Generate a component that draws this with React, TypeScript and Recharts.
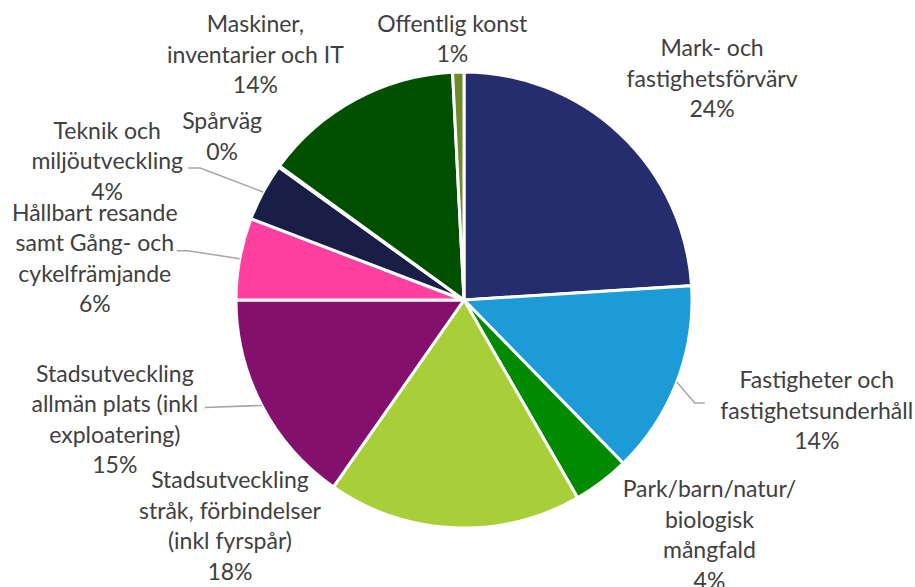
import { Cell, Pie, PieChart } from "recharts";

const W = 915;
const H = 587;
const FONT = "Lato, 'Open Sans', sans-serif";
const TEXT = "#404040";
const LEADER = "#A6A6A6";
const LINE_H = 30.5;
const RAD = Math.PI / 180;

// label text, "\n" marks where the original wraps
const CATEGORIES = [
  "Mark- och\nfastighetsförvärv",
  "Fastigheter och\nfastighetsunderhåll",
  "Park/barn/natur/\nbiologisk\nmångfald",
  "Stadsutveckling\nstråk, förbindelser\n(inkl fyrspår)",
  "Stadsutveckling\nallmän plats (inkl\nexploatering)",
  "Hållbart resande\nsamt Gång- och\ncykelfrämjande",
  "Teknik och\nmiljöutveckling",
  "Spårväg",
  "Maskiner,\ninventarier och IT",
  "Offentlig konst",
];
const SHARES = [24.0, 13.7, 4.0, 18.0, 15.3, 5.8, 4.1, 0.1, 14.2, 0.8];
const COLORS = [
  "#262D6E",
  "#1D9BD7",
  "#008A00",
  "#A9CF38",
  "#84106E",
  "#FF40A0",
  "#191E47",
  "#7F7F7F",
  "#005000",
  "#6F8A28",
];

// label block centre, offset from the slice's outer edge at its mid angle
const LABEL_OFFSET: [number, number][] = [
  [92, -56],
  [140, 28],
  [108, 52],
  [-224, -3],
  [-147, 13],
  [-145, -1],
  [-156, -32],
  [-57, -31],
  [-100, -46],
  [-6, -34],
];
// leader line points (relative to the slice edge)
const LEADERS: (number[] | null)[] = [
  null,
  [18, 21, 28, 21],
  null,
  null,
  [-57, 2],
  [-52, -8, -63, -8],
  [-63, -24, -75, -24],
  null,
  null,
  null,
];

const data = CATEGORIES.map((name, i) => ({ name, value: SHARES[i] }));

function SliceLabel(props: any) {
  const { cx, cy, midAngle, outerRadius, index, percent } = props;
  const ex = cx + outerRadius * Math.cos(-midAngle * RAD);
  const ey = cy + outerRadius * Math.sin(-midAngle * RAD);
  const [dx, dy] = LABEL_OFFSET[index];
  const lines = [...CATEGORIES[index].split("\n"), `${Math.round(percent * 100)}%`];
  const top = ey + dy - ((lines.length - 1) * LINE_H) / 2;
  const leader = LEADERS[index];
  let pts = `${ex},${ey}`;
  if (leader) {
    for (let k = 0; k < leader.length; k += 2) pts += ` ${ex + leader[k]},${ey + leader[k + 1]}`;
  }
  return (
    <g>
      {leader && <polyline points={pts} fill="none" stroke={LEADER} strokeWidth={1.5} />}
      <text
        x={ex + dx}
        textAnchor="middle"
        dominantBaseline="central"
        fill={TEXT}
        fontSize={23}
        fontFamily={FONT}
      >
        {lines.map((l, i) => (
          <tspan key={i} x={ex + dx} y={top + i * LINE_H}>
            {l}
          </tspan>
        ))}
      </text>
    </g>
  );
}

export default function App() {
  return (
    <div style={{ position: "absolute", left: 0, top: 0, width: W, height: H, background: "#fff" }}>
      <PieChart width={W} height={H} margin={{ top: 0, right: 0, bottom: 0, left: 0 }}>
        <Pie
          data={data}
          dataKey="value"
          nameKey="name"
          cx={464}
          cy={300}
          outerRadius={228}
          startAngle={90}
          endAngle={-270}
          stroke="#fff"
          strokeWidth={3}
          label={SliceLabel}
          labelLine={false}
          isAnimationActive={false}
        >
          {data.map((d, i) => (
            <Cell key={d.name} fill={COLORS[i]} />
          ))}
        </Pie>
      </PieChart>
    </div>
  );
}
